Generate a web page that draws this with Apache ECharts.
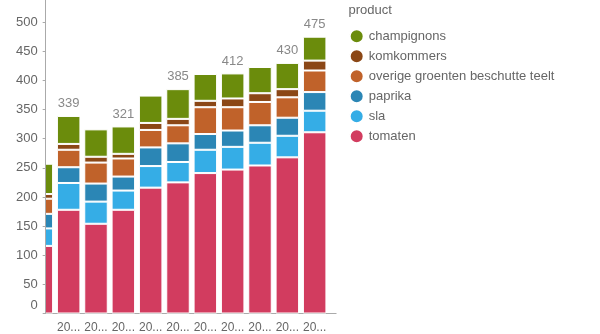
<!DOCTYPE html>
<html>
<head>
<meta charset="utf-8">
<script src="https://cdn.jsdelivr.net/npm/echarts@6/dist/echarts.min.js"></script>
<style>html,body{margin:0;padding:0;background:#fff}#c{width:600px;height:334px}</style>
</head>
<body>
<div id="c"></div>
<script>
const categories = ['2013','2014','2015','2016','2017','2018','2019','2020','2021','2022','2023'];
const tomaten     = [116, 178, 154, 178, 216, 225, 241, 247, 254, 268, 311];
const sla         = [ 30,  46,  38,  33,  37,  35,  40,  39,  39,  37,  37];
const paprika     = [ 25,  27,  31,  24,  32,  32,  27,  28,  30,  31,  32];
const overige     = [ 26,  30,  36,  31,  30,  31,  46,  40,  40,  35,  37];
const komkommers  = [  8,  10,  10,   8,  12,  11,  11,  15,  15,  14,  17];
const champignons = [ 52,  48,  47,  47,  47,  51,  46,  43,  45,  45,  41];
const totalShown  = [false, true, false, true, false, true, false, true, false, true, true];
const yTicks = [0, 50, 100, 150, 200, 250, 300, 350, 400, 450, 500];

const seriesDefs = [
  ['tomaten', tomaten, '#d23c5f'],
  ['sla', sla, '#35ade6'],
  ['paprika', paprika, '#2b86b5'],
  ['overige groenten beschutte teelt', overige, '#c0622a'],
  ['komkommers', komkommers, '#8b4716'],
  ['champignons', champignons, '#6b8c0c']
];
const totals = categories.map((c, i) => seriesDefs.reduce((s, d) => s + d[1][i], 0));

const chart = echarts.init(document.getElementById('c'), null, {renderer: 'canvas'});
const series = seriesDefs.map((d, k) => ({
  name: d[0],
  type: 'bar',
  stack: 'total',
  data: d[1],
  barCategoryGap: '14%',
  itemStyle: {color: d[2], borderColor: '#fff', borderWidth: 1},
  emphasis: {disabled: true},
  label: k === seriesDefs.length - 1 ? {
    show: true,
    position: 'top',
    distance: 6,
    fontFamily: 'Liberation Sans, Arial, sans-serif',
    fontSize: 13,
    color: '#888',
    formatter: p => totalShown[p.dataIndex] ? String(totals[p.dataIndex]) : ''
  } : {show: false}
}));

chart.setOption({
  animation: false,
  textStyle: {fontFamily: 'Liberation Sans, Arial, sans-serif'},
  title: {
    text: 'product', left: 348.5, top: 4, padding: 0,
    textStyle: {fontSize: 13, fontWeight: 'normal', color: '#666'}
  },
  legend: {
    orient: 'vertical', left: 348.7, top: 28.3, padding: 0,
    itemWidth: 14, itemHeight: 14, itemGap: 4.0,
    icon: 'circle',
    textStyle: {fontSize: 13, color: '#666'},
    data: seriesDefs.map(d => d[0]).reverse(),
    selectedMode: false
  },
  grid: {left: 27.67, top: 0, width: 328, height: 313.5, containLabel: false},
  xAxis: {
    type: 'category',
    data: categories,
    max: categories.length,
    z: 0,
    axisLine: {lineStyle: {color: '#aaa'}},
    axisTick: {length: 4, lineStyle: {color: '#aaa'}},
    axisLabel: {
      interval: 0, margin: 8, fontSize: 12, color: '#666',
      width: 27, overflow: 'truncate', ellipsis: '...'
    }
  },
  yAxis: {
    type: 'value',
    min: yTicks[0], max: 538, interval: 50,
    offset: -18,
    z: 10,
    splitLine: {show: false},
    axisLine: {show: true, lineStyle: {color: '#aaa'}},
    axisTick: {show: true, length: 3, lineStyle: {color: '#aaa'}},
    axisLabel: {
      showMaxLabel: false, margin: 8, fontSize: 13, color: '#666',
      formatter: v => v === 0 ? '{z|0}' : (yTicks.includes(v) ? String(v) : ''),
      rich: {z: {fontSize: 13, color: '#666', padding: [0, 0, 17, 0]}}
    }
  },
  graphic: [
    {type: 'rect', z: 5, silent: true, shape: {x: 0, y: 0, width: 45.2, height: 334}, style: {fill: '#fff'}},
    {type: 'rect', z: 5, silent: true, shape: {x: 0, y: 318.5, width: 56, height: 16}, style: {fill: '#fff'}},
    {type: 'rect', z: 5, silent: true, shape: {x: 336.5, y: 300, width: 30, height: 34}, style: {fill: '#fff'}}
  ],
  series: series
});
</script>
</body>
</html>
